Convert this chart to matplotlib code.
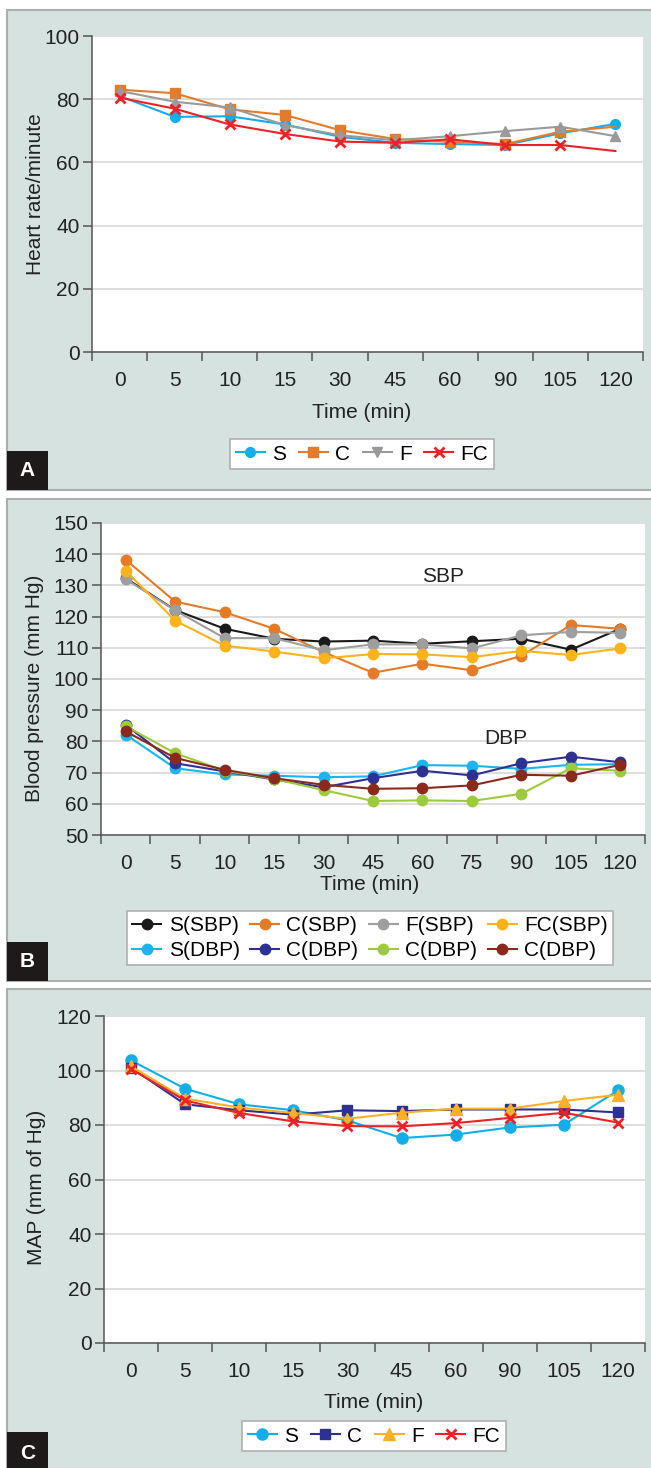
import matplotlib
matplotlib.use("Agg")
import matplotlib.pyplot as plt
from matplotlib.patches import Rectangle
from matplotlib.lines import Line2D

plt.rcParams['font.family'] = ['Liberation Sans', 'DejaVu Sans']

W, H = 651, 1468

# ---- panel A: heart rate ----
times_a = ['0', '5', '10', '15', '30', '45', '60', '90', '105', '120']
hr_s = [81, 74.4, 74.6, 72, 68.1, 66.2, 65.8, 65.5, 69.2, 72.2]
hr_c = [83, 81.9, 76.8, 75, 70.2, 67.4, 66.5, 65.8, 69.7, 71.3]
hr_f = [82.6, 79.2, 77.4, 71.8, 68.6, 67, 68.3, 69.9, 71.3, 68.3]
hr_fc = [80.5, 77, 72, 69, 66.6, 66.2, 67.3, 65.5, 65.5, 63.6]

# ---- panel B: blood pressure ----
times_b = ['0', '5', '10', '15', '30', '45', '60', '75', '90', '105', '120']
sbp_s = [132.3, 122.1, 116.1, 112.9, 112, 112.3, 111.3, 112.1, 112.9, 109.4, 116.1]
sbp_c = [138.2, 124.8, 121.4, 116.1, 108.6, 102, 104.9, 102.8, 107.4, 117.3, 116.1]
sbp_f = [132, 122, 113.1, 113.1, 109.2, 111.1, 111.1, 109.8, 114, 115.1, 114.8]
sbp_fc = [134.7, 118.7, 110.7, 108.8, 106.6, 108, 107.9, 107, 109, 107.7, 109.8]
dbp_s = [82.2, 71.4, 69.4, 69, 68.5, 68.8, 72.4, 72.2, 71.2, 72.5, 72.7]
dbp_c = [85.3, 73, 70.4, 67.8, 65.3, 68.2, 70.6, 69.1, 73, 75.1, 73.3]
dbp_f = [84.9, 76.2, 70.6, 68, 64.4, 60.9, 61.1, 60.9, 63.2, 71.4, 70.6]
dbp_fc = [83.2, 74.7, 70.9, 68.2, 66.1, 64.8, 65, 65.9, 69.3, 69, 72.5]

# ---- panel C: MAP ----
times_c = ['0', '5', '10', '15', '30', '45', '60', '90', '105', '120']
map_s = [103.7, 93.3, 87.6, 85.4, 81.7, 75.2, 76.5, 79.1, 80.1, 92.7]
map_c = [101, 87.6, 85.4, 83.8, 85.4, 85.1, 85.7, 85.7, 85.7, 84.6]
map_f = [101.5, 89.7, 86.4, 84.4, 82.3, 84.5, 86, 86, 88.8, 91.1]
map_fc = [100.5, 89, 84.4, 81.3, 79.6, 79.5, 80.7, 82.6, 84.5, 80.9]

BG = '#d6e2df'
FS = 15
TXT = '#222222'


def fx(x):
    return x / W


def fy(y):
    return 1 - y / H


def panel_axes(fig, left, right, top, bottom):
    ax = fig.add_axes([fx(left), fy(bottom), fx(right - left), (bottom - top) / H])
    ax.set_zorder(3)
    return ax


def style_axes(ax, labels, ymin, ymax, ystep):
    n = len(labels)
    ax.set_xlim(-0.5, n - 0.5)
    ax.set_ylim(ymin, ymax)
    ax.set_xticks([i - 0.5 for i in range(n + 1)])
    ax.set_xticklabels([])
    ax.set_xticks(range(n), minor=True)
    ax.set_xticklabels(labels, minor=True)
    ax.set_yticks(range(ymin, ymax + 1, ystep))
    ax.tick_params(axis='x', which='major', direction='out', length=6.5, width=1.1, color='#555555')
    ax.tick_params(axis='x', which='minor', length=0, pad=14, labelsize=FS, labelcolor=TXT)
    ax.tick_params(axis='y', direction='out', length=6.5, width=1.1, color='#555555',
                   pad=2.5, labelsize=FS, labelcolor=TXT)
    for s in ['top', 'right']:
        ax.spines[s].set_visible(False)
    for s in ['left', 'bottom']:
        ax.spines[s].set_color('#555555')
        ax.spines[s].set_linewidth(1.1)
    ax.grid(axis='y', color='#d8d8d8', linewidth=1.2)
    ax.set_axisbelow(True)
    ax.set_facecolor('white')


def panel_frame(fig, top, bottom, letter, letter_top):
    fig.patches.append(Rectangle((fx(7), fy(bottom)), fx(W), (bottom - top) / H,
                                 transform=fig.transFigure, facecolor=BG,
                                 edgecolor='#a9b0ae', linewidth=1.5, zorder=-2))
    fig.patches.append(Rectangle((fx(7), fy(bottom)), fx(41), (bottom - letter_top) / H,
                                 transform=fig.transFigure, facecolor='#1e1a1a',
                                 edgecolor='none', zorder=-1))
    fig.text(fx(27.5), fy((bottom + letter_top) / 2), letter, color='white',
             fontsize=15, fontweight='bold', ha='center', va='center')


def add_legend(fig, handles, labels, cx, cy, **kw):
    leg = fig.legend(handles, labels, loc='center', bbox_to_anchor=(fx(cx), fy(cy)),
                     ncol=4, fontsize=FS, frameon=True, fancybox=False, framealpha=1,
                     handlelength=1.4, handletextpad=0.35, borderpad=0.25,
                     edgecolor='#b0b0b0', **kw)
    leg.get_frame().set_linewidth(1.2)
    leg.set_zorder(4)
    return leg


fig = plt.figure(figsize=(W / 100, H / 100), dpi=100)

panel_frame(fig, 10, 490, 'A', 451)
panel_frame(fig, 499, 981, 'B', 942)
panel_frame(fig, 989, 1475, 'C', 1432)

# ---------- A ----------
ax = panel_axes(fig, 92, 643, 36, 352)
style_axes(ax, times_a, 0, 100, 20)
xa = range(len(times_a))
n_a = len(times_a)
# the source hides a few markers (S at 0, C and FC at 120)
ax.plot(xa, hr_s, color='#13aee8', marker='o', ms=7, lw=1.5, markevery=list(range(1, n_a)))
ax.plot(xa, hr_c, color='#e37b2b', marker='s', ms=6.5, lw=1.5, markevery=list(range(n_a - 1)))
ax.plot(xa, hr_f, color='#9a9a9a', marker='^', ms=7, lw=1.5)
ax.plot(xa, hr_fc, color='#ec2227', marker='x', ms=7, mew=2, lw=1.5, markevery=list(range(n_a - 1)))
fig.text(fx(36), fy(194), 'Heart rate/minute', rotation=90, ha='center', va='center',
         fontsize=FS, color=TXT)
fig.text(fx(362), fy(413), 'Time (min)', ha='center', va='center', fontsize=FS, color=TXT)
hs = [Line2D([], [], color='#13aee8', marker='o', ms=7, lw=1.5),
      Line2D([], [], color='#e37b2b', marker='s', ms=6.5, lw=1.5),
      Line2D([], [], color='#9a9a9a', marker='v', ms=7, lw=1.5),
      Line2D([], [], color='#ec2227', marker='x', ms=7, mew=2, lw=1.5)]
add_legend(fig, hs, ['S', 'C', 'F', 'FC'], 362, 454, columnspacing=0.6)

# ---------- B ----------
ax = panel_axes(fig, 101, 645, 523, 835)
style_axes(ax, times_b, 50, 150, 10)
xb = range(len(times_b))
series_b = [
    (sbp_s, '#1a1a1a', 'S(SBP)'),
    (sbp_c, '#e57a27', 'C(SBP)'),
    (sbp_f, '#9e9e9e', 'F(SBP)'),
    (sbp_fc, '#fcb319', 'FC(SBP)'),
    (dbp_s, '#1bb4ee', 'S(DBP)'),
    (dbp_c, '#2e3192', 'C(DBP)'),
    (dbp_f, '#9dcb3b', 'C(DBP)'),
    (dbp_fc, '#8b2a1c', 'C(DBP)'),
]
lines = []
for vals, col, lab in series_b:
    ln, = ax.plot(xb, vals, color=col, marker='o', ms=7.5, lw=1.5)
    lines.append(ln)
fig.text(fx(443), fy(576), 'SBP', ha='center', va='center', fontsize=FS, color=TXT)
fig.text(fx(506), fy(739), 'DBP', ha='center', va='center', fontsize=FS, color=TXT)
fig.text(fx(35), fy(688), 'Blood pressure (mm Hg)', rotation=90, ha='center', va='center',
         fontsize=FS, color=TXT)
fig.text(fx(370), fy(884), 'Time (min)', ha='center', va='center', fontsize=FS, color=TXT)
order = [0, 4, 1, 5, 2, 6, 3, 7]
add_legend(fig, [lines[i] for i in order], [series_b[i][2] for i in order], 370, 938,
           columnspacing=0.5, labelspacing=0.3)

# ---------- C ----------
ax = panel_axes(fig, 104, 645, 1016, 1343)
style_axes(ax, times_c, 0, 120, 20)
xc = range(len(times_c))
ax.plot(xc, map_s, color='#13aee8', marker='o', ms=8, lw=1.5)
ax.plot(xc, map_c, color='#2e3192', marker='s', ms=6.5, lw=1.5)
ax.plot(xc, map_f, color='#fbb025', marker='^', ms=8, lw=1.5)
ax.plot(xc, map_fc, color='#ec2227', marker='x', ms=7, mew=2, lw=1.5)
fig.text(fx(37), fy(1187), 'MAP (mm of Hg)', rotation=90, ha='center', va='center',
         fontsize=FS, color=TXT)
fig.text(fx(374), fy(1403), 'Time (min)', ha='center', va='center', fontsize=FS, color=TXT)
add_legend(fig, ax.get_lines(), ['S', 'C', 'F', 'FC'], 374, 1436, columnspacing=0.6)

fig.savefig('out.png', dpi=100)
